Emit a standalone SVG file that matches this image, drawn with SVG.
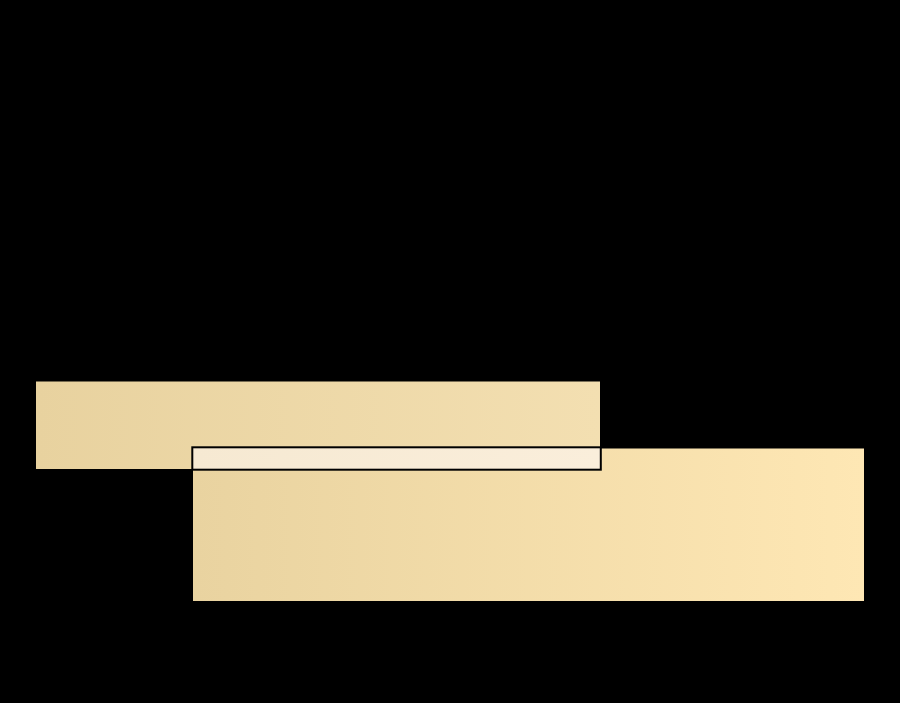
<svg xmlns="http://www.w3.org/2000/svg" width="900" height="703" viewBox="0 0 900 703">
  <defs>
    <linearGradient id="g1" x1="0" y1="0" x2="1" y2="0">
      <stop offset="0" stop-color="#e8d29f"/>
      <stop offset="1" stop-color="#f3dfb1"/>
    </linearGradient>
    <linearGradient id="g2" x1="0" y1="0" x2="1" y2="0">
      <stop offset="0" stop-color="#e9d3a0"/>
      <stop offset="1" stop-color="#fee7b4"/>
    </linearGradient>
    <linearGradient id="g3" x1="0" y1="0" x2="1" y2="0">
      <stop offset="0" stop-color="#f6e9d2"/>
      <stop offset="1" stop-color="#faeedb"/>
    </linearGradient>
  </defs>
  <style>
    .ov { stroke: #000000; stroke-width: 2; }
  </style>
  <rect x="0" y="0" width="900" height="703" fill="#000000"/>
  <g id="set-a">
    <rect x="36" y="381.5" width="564" height="87.5" fill="url(#g1)"/>
  </g>
  <g id="set-b">
    <rect x="193" y="448.5" width="671" height="152.5" fill="url(#g2)"/>
  </g>
  <g id="intersection">
    <rect class="ov" x="192.3" y="447.3" width="408.5" height="22.4" fill="url(#g3)"/>
  </g>
  <g id="connectors"/>
</svg>
